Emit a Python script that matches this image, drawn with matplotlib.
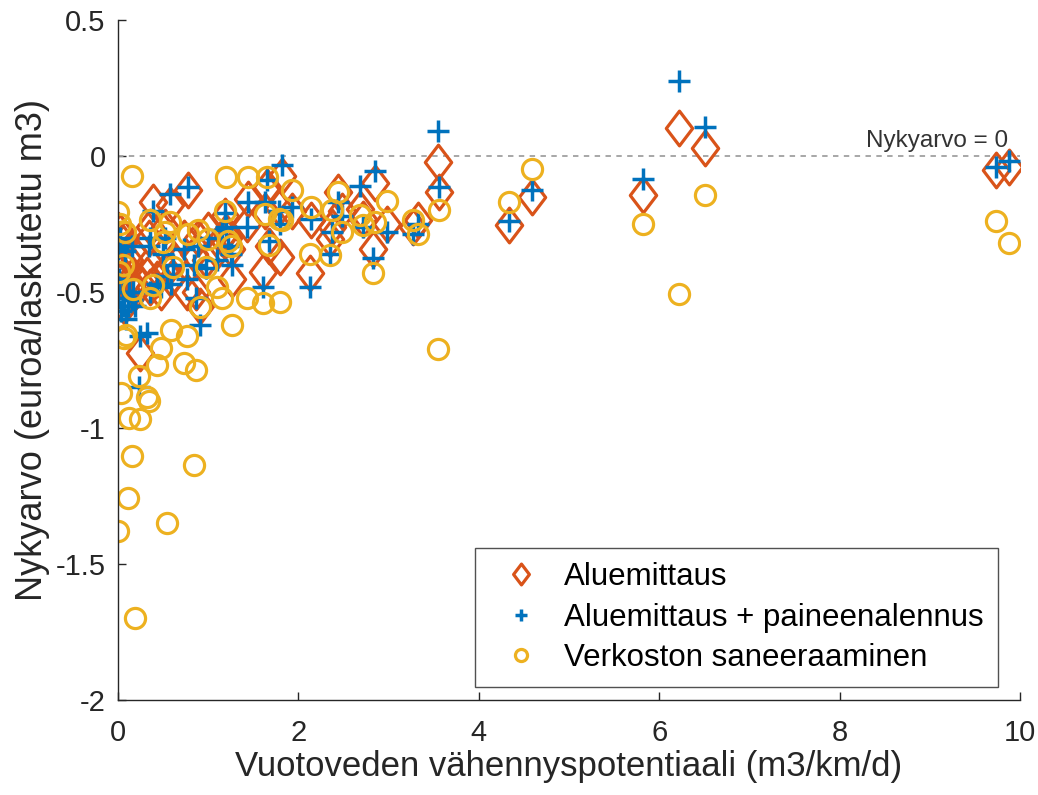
import numpy as np
import matplotlib
matplotlib.use("Agg")
import matplotlib.pyplot as plt
from matplotlib.path import Path

plt.rcParams['font.family'] = ['Liberation Sans', 'DejaVu Sans']

# leakage reduction potential (shared by the three methods)
x = [9.88, 9.73, 6.51, 6.22, 5.82, 4.59, 4.34, 3.55, 3.56, 3.33,
     3.27, 2.98, 2.85, 2.83, 2.68, 2.72, 2.44, 2.48, 2.35, 2.37,
     2.13, 2.14, 1.93, 1.82, 1.80, 1.78, 1.65, 1.63, 1.67, 1.61,
     1.44, 1.43, 1.20, 1.19, 1.22, 1.25, 1.26, 1.10, 1.15, 1.00,
     0.98, 0.91, 0.89, 0.87, 0.84, 0.78, 0.76, 0.73, 0.61, 0.58,
     0.59, 0.54, 0.52, 0.50, 0.48, 0.43, 0.39, 0.35, 0.36, 0.32,
     0.34, 0.24, 0.23, 0.19, 0.17, 0.15, 0.16, 0.11, 0.12, 0.08,
     0.09, 0.07, 0.05, 0.02, 0.03, 0.00, 0.01, 0.00]

aluemittaus = [-0.04, -0.049, 0.029, 0.104, -0.142, -0.150, -0.254, -0.022, -0.132, -0.236,
               -0.26, -0.248, -0.10, -0.34, -0.193, -0.23, -0.132, -0.20, -0.303, -0.26,
               -0.431, -0.236, -0.20, -0.071, -0.37, -0.19, -0.114, -0.20, -0.33, -0.425,
               -0.156, -0.25, -0.28, -0.22, -0.30, -0.34, -0.45, -0.35, -0.30, -0.27,
               -0.38, -0.55, -0.30, -0.50, -0.36, -0.126, -0.50, -0.30, -0.38, -0.181,
               -0.45, -0.42, -0.26, -0.33, -0.50, -0.45, -0.169, -0.26, -0.48, -0.437,
               -0.30, -0.725, -0.46, -0.50, -0.437, -0.35, -0.47, -0.42, -0.38, -0.30,
               -0.52, -0.55, -0.32, -0.28, -0.45, -0.273, -0.42, -0.45]

paineenalennus = [-0.018, -0.038, 0.109, 0.278, -0.085, -0.126, -0.240, 0.092, -0.114, -0.25,
                  -0.285, -0.279, -0.053, -0.376, -0.108, -0.26, -0.169, -0.22, -0.358, -0.28,
                  -0.48, -0.23, -0.187, -0.034, -0.25, -0.20, -0.089, -0.17, -0.31, -0.48,
                  -0.17, -0.26, -0.26, -0.21, -0.33, -0.36, -0.40, -0.38, -0.27, -0.30,
                  -0.41, -0.62, -0.33, -0.523, -0.40, -0.114, -0.45, -0.34, -0.40, -0.138,
                  -0.47, -0.44, -0.30, -0.36, -0.48, -0.47, -0.20, -0.30, -0.50, -0.652,
                  -0.33, -0.66, -0.85, -0.55, -0.50, -0.33, -0.53, -0.55, -0.50, -0.35,
                  -0.60, -0.55, -0.50, -0.30, -0.57, -0.34, -0.45, -0.52]

saneeraus = [-0.319, -0.24, -0.142, -0.507, -0.248, -0.046, -0.169, -0.709, -0.197, -0.285,
             -0.236, -0.163, -0.242, -0.43, -0.217, -0.254, -0.132, -0.279, -0.364, -0.199,
             -0.358, -0.187, -0.126, -0.236, -0.535, -0.23, -0.077, -0.212, -0.327, -0.54,
             -0.077, -0.52, -0.077, -0.20, -0.31, -0.33, -0.62, -0.48, -0.52, -0.303,
             -0.407, -0.554, -0.273, -0.786, -1.134, -0.285, -0.66, -0.762, -0.407, -0.242,
             -0.64, -1.348, -0.279, -0.315, -0.707, -0.768, -0.474, -0.236, -0.523, -0.884,
             -0.902, -0.966, -0.81, -1.70, -0.49, -0.071, -1.104, -1.257, -0.963, -0.279,
             -0.657, -0.67, -0.40, -0.248, -0.872, -0.205, -0.425, -1.379]

labels = ['Aluemittaus', 'Aluemittaus + paineenalennus', 'Verkoston saneeraaminen']
colors = ['#D95319', '#0072BD', '#EDB120']

# matlab-like diamond (wider than mpl 'd')
diamond = Path([(0, 1), (0.76, 0), (0, -1), (-0.76, 0), (0, 1)],
               [Path.MOVETO, Path.LINETO, Path.LINETO, Path.LINETO, Path.CLOSEPOLY])

fig = plt.figure(figsize=(10.38, 7.95), dpi=100)
ax = fig.add_axes([0.1137, 0.1195, 0.869, 0.855])

ax.plot([0, 10], [0, 0], linestyle=(0, (3, 3)), color='#a0a0a0', lw=1.3)
ax.text(9.87, 0.033, 'Nykyarvo = 0', ha='right', va='baseline', fontsize=17.5, color='#333333')

ax.plot(x, aluemittaus, linestyle='none', marker=diamond, ms=25, mfc='none',
        mec=colors[0], mew=2.3, label=labels[0])
ax.plot(x, paineenalennus, linestyle='none', marker='+', ms=15.5, mec=colors[1],
        mew=2.5, label=labels[1])
ax.plot(x, saneeraus, linestyle='none', marker='o', ms=14.5, mfc='none',
        mec=colors[2], mew=2.3, label=labels[2])

ax.set_xlim(0, 10)
ax.set_ylim(-2, 0.5)
ax.set_xticks([0, 2, 4, 6, 8, 10])
ax.set_yticks([-2, -1.5, -1, -0.5, 0, 0.5])
ax.set_yticklabels(['-2', '-1.5', '-1', '-0.5', '0', '0.5'])
ax.spines['top'].set_visible(False)
ax.spines['right'].set_visible(False)
for s in ['left', 'bottom']:
    ax.spines[s].set_color('#262626')
    ax.spines[s].set_linewidth(1.0)
ax.tick_params(direction='in', length=6, width=1, colors='#262626', labelsize=21)
ax.tick_params(axis='x', pad=14)
ax.tick_params(axis='y', pad=9)

ax.set_xlabel('Vuotoveden vähennyspotentiaali (m3/km/d)', fontsize=25, color='#262626', labelpad=2)
ax.set_ylabel('Nykyarvo (euroa/laskutettu m3)', fontsize=26, color='#262626', labelpad=4, y=0.515)

leg = ax.legend(loc='lower right', bbox_to_anchor=(0.9756, 0.019), borderaxespad=0,
                fontsize=22.5, frameon=True, fancybox=False, edgecolor='#262626',
                markerscale=0.6, handletextpad=0.4, handlelength=2.0,
                borderpad=0.45, labelspacing=0.33)
leg.get_frame().set_linewidth(1.0)

fig.savefig('out.png', dpi=100)
